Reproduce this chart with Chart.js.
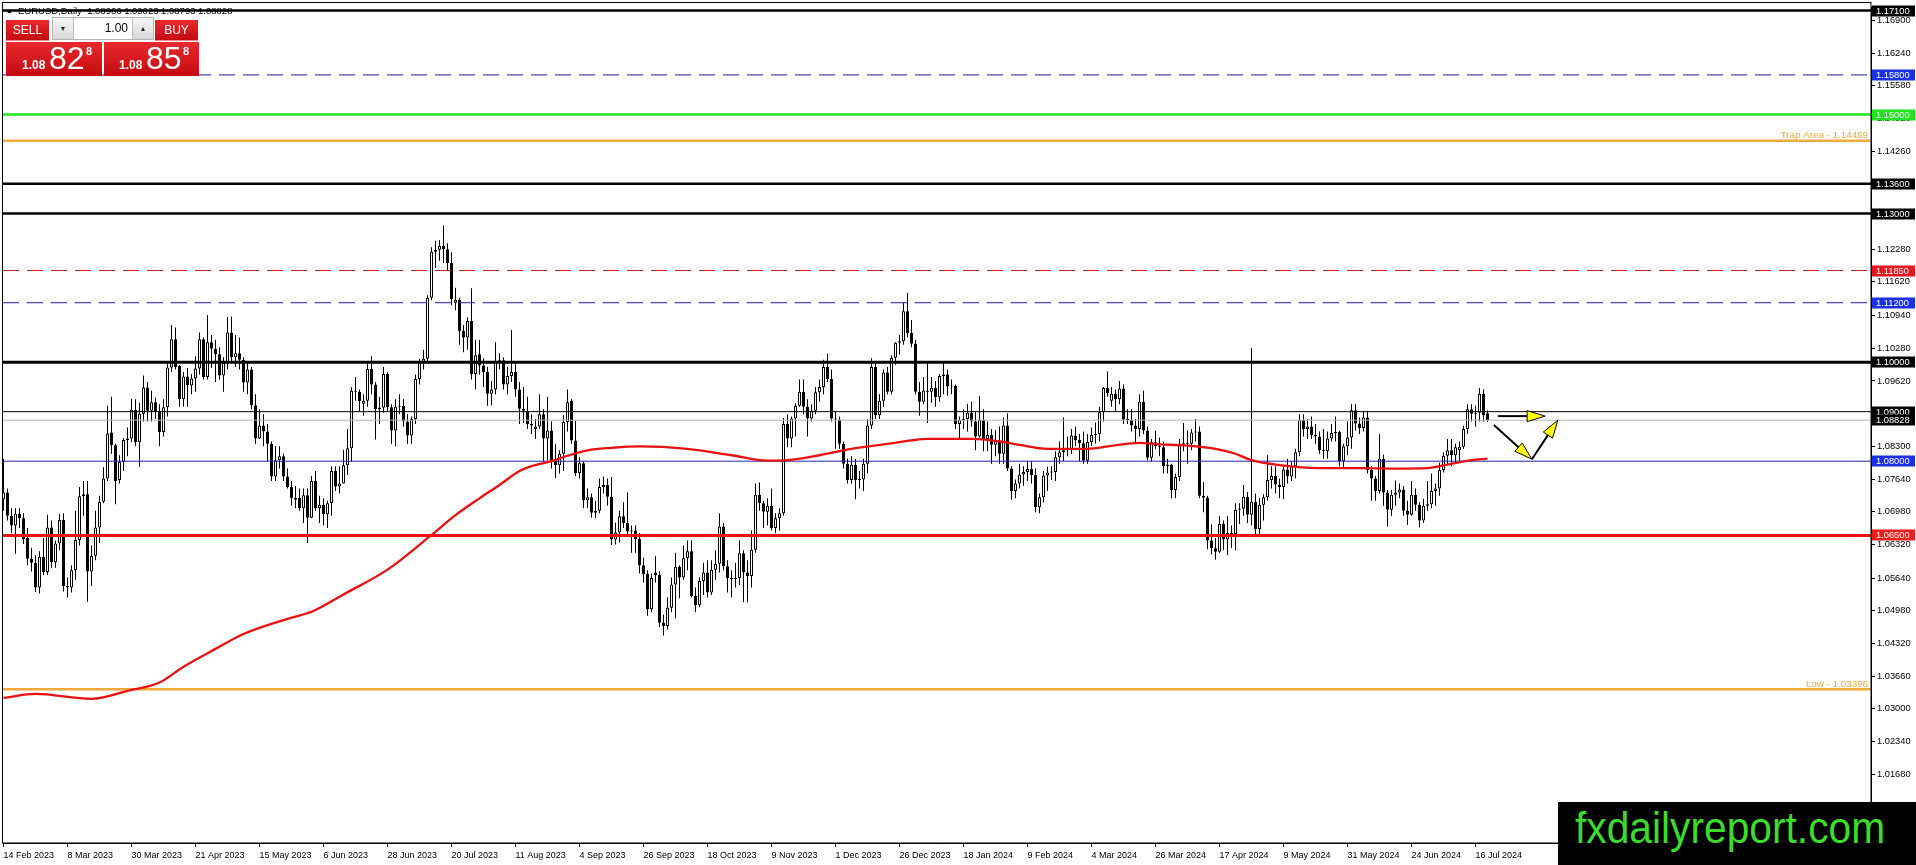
<!DOCTYPE html>
<html>
<head>
<meta charset="utf-8">
<title>EURUSD Daily</title>
<script src="https://cdn.jsdelivr.net/npm/chart.js@4.4.1/dist/chart.umd.min.js"></script>
<style>
  body { margin: 0; background: #fff; font-family: "Liberation Sans", Arial, sans-serif; }
  #wrap { position: relative; width: 1916px; height: 865px; overflow: hidden; }
  #chart { position: absolute; left: 0; top: 0; }
  .abs { position: absolute; white-space: nowrap; }
  .red { position: absolute; background: linear-gradient(#e9292e, #c40b10); color: #fff; }
  .lbl { font-size: 12px; line-height: 20px; text-align: center; border-bottom: 1px solid #f08a8a; }
  .btn { position: absolute; top: 18px; width: 20px; height: 21px; background: linear-gradient(#f6f6f6, #d9d9d9); font-size: 7px; line-height: 21px; text-align: center; color: #222; }
</style>
</head>
<body>
<div id="wrap">
  <canvas id="chart" width="1916" height="865"></canvas>

  <div class="abs" style="left:6px;top:7px;font-size:7px;line-height:7px;">&#9650;</div>
  <div class="abs" style="left:18px;top:6px;font-size:9.5px;line-height:9.5px;color:#000;">EURUSD,Daily&nbsp; 1.08966 1.09023 1.08793 1.08828</div>

  <div class="red lbl" style="left:6px;top:20px;width:43px;height:20px;">SELL</div>
  <div class="abs" style="left:52px;top:17px;width:100px;height:21px;background:#fff;border:1px solid #b4b4b4;"></div>
  <div class="btn" style="left:53px;border-right:1px solid #bdbdbd;">&#9660;</div>
  <div class="abs" style="left:74px;top:17px;width:54px;font-size:12px;line-height:23px;text-align:right;color:#000;">1.00</div>
  <div class="btn" style="left:132px;border-left:1px solid #bdbdbd;">&#9650;</div>
  <div class="red lbl" style="left:155px;top:20px;width:43px;height:20px;">BUY</div>

  <div class="red" style="left:6px;top:42px;width:96px;height:34px;">
    <span class="abs" style="left:16px;top:17px;font-size:12px;line-height:12px;font-weight:bold;">1.08</span>
    <span class="abs" style="left:43px;top:0px;font-size:32px;line-height:32px;">82</span>
    <span class="abs" style="left:80px;top:4px;font-size:11px;line-height:11px;font-weight:bold;">8</span>
  </div>
  <div class="red" style="left:104px;top:42px;width:95px;height:34px;">
    <span class="abs" style="left:15px;top:17px;font-size:12px;line-height:12px;font-weight:bold;">1.08</span>
    <span class="abs" style="left:42px;top:0px;font-size:32px;line-height:32px;">85</span>
    <span class="abs" style="left:79px;top:4px;font-size:11px;line-height:11px;font-weight:bold;">8</span>
  </div>

  <div class="abs" style="left:1558px;top:802px;width:358px;height:63px;background:#000;">
    <span class="abs" style="left:17px;top:3px;font-size:45px;line-height:45px;color:#3cdc2c;transform:scaleX(0.905);transform-origin:left top;">fxdailyreport.com</span>
  </div>
</div>

<script>
const opens = [
  1.0723,1.0737,1.0690,1.0670,1.0694,1.0685,1.0645,1.0603,1.0595,1.0545,
  1.0607,1.0576,1.0666,1.0596,1.0634,1.0682,1.0548,1.0545,1.0580,1.0641,
  1.0729,1.0733,1.0577,1.0609,1.0666,1.0718,1.0765,1.0858,1.0832,1.0762,
  1.0799,1.0843,1.0846,1.0904,1.0838,1.0896,1.0949,1.0902,1.0919,1.0900,
  1.0859,1.0909,1.0989,1.1046,1.0992,1.0925,1.0971,1.0953,1.0967,1.0987,
  1.1046,1.0970,1.1040,1.1027,1.1016,1.0973,1.0999,1.1060,1.1010,1.1018,
  1.1005,1.0959,1.0985,1.0913,1.0846,1.0872,1.0860,1.0835,1.0769,1.0802,
  1.0810,1.0769,1.0748,1.0722,1.0726,1.0705,1.0731,1.0686,1.0760,1.0705,
  1.0712,1.0693,1.0715,1.0780,1.0749,1.0755,1.0792,1.0826,1.0942,1.0940,
  1.0916,1.0922,1.0986,1.0955,1.0905,1.0908,1.0976,1.0909,1.0862,1.0910,
  1.0912,1.0880,1.0852,1.0885,1.0966,1.1000,1.1007,1.1130,1.1223,1.1227,
  1.1235,1.1228,1.1200,1.1120,1.1126,1.1063,1.1050,1.1083,1.0976,1.1016,
  1.0993,1.0980,1.0936,1.0945,1.1000,1.1004,1.0955,1.0972,1.0980,1.0945,
  1.0906,1.0902,1.0875,1.0865,1.0870,1.0895,1.0846,1.0862,1.0802,1.0792,
  1.0815,1.0879,1.0922,1.0842,1.0776,1.0796,1.0721,1.0727,1.0696,1.0700,
  1.0748,1.0752,1.0728,1.0642,1.0656,1.0689,1.0675,1.0658,1.0660,1.0643,
  1.0590,1.0572,1.0501,1.0575,1.0570,1.0474,1.0467,1.0504,1.0551,1.0587,
  1.0565,1.0604,1.0618,1.0528,1.0509,1.0558,1.0575,1.0535,1.0581,1.0593,
  1.0668,1.0588,1.0564,1.0562,1.0564,1.0614,1.0575,1.0568,1.0621,1.0732,
  1.0715,1.0698,1.0710,1.0665,1.0685,1.0695,1.0875,1.0846,1.0886,1.0912,
  1.0940,1.0910,1.0886,1.0902,1.0939,1.0950,1.0990,1.0966,1.0886,1.0884,
  1.0835,1.0795,1.0762,1.0793,1.0762,1.0763,1.0795,1.0872,1.0990,1.0893,
  1.0922,1.0979,1.0940,1.1009,1.1039,1.1042,1.1103,1.1059,1.1037,1.0940,
  1.0920,1.0943,1.0940,1.0948,1.0929,1.0972,1.0975,1.0951,1.0952,1.0875,
  1.0883,1.0885,1.0898,1.0880,1.0850,1.0883,1.0845,1.0853,1.0833,1.0842,
  1.0815,1.0872,1.0785,1.0740,1.0755,1.0773,1.0778,1.0784,1.0772,1.0707,
  1.0727,1.0771,1.0777,1.0778,1.0808,1.0818,1.0822,1.0823,1.0852,1.0843,
  1.0836,1.0801,1.0839,1.0853,1.0855,1.0899,1.0948,1.0922,1.0936,1.0925,
  1.0947,1.0884,1.0883,1.0872,1.0865,1.0920,1.0862,1.0807,1.0838,1.0830,
  1.0828,1.0790,1.0793,1.0742,1.0768,1.0835,1.0836,1.0835,1.0858,1.0860,
  1.0730,1.0726,1.0640,1.0624,1.0617,1.0673,1.0642,1.0655,1.0653,1.0702,
  1.0704,1.0728,1.0692,1.0718,1.0663,1.0712,1.0727,1.0762,1.0770,1.0753,
  1.0748,1.0783,1.0769,1.0790,1.0818,1.0883,1.0865,1.0870,1.0853,1.0850,
  1.0822,1.0820,1.0846,1.0857,1.0859,1.0800,1.0830,1.0848,1.0903,1.0876,
  1.0867,1.0888,1.0782,1.0765,1.0740,1.0805,1.0737,1.0702,1.0732,1.0737,
  1.0743,1.0700,1.0692,1.0732,1.0712,1.0680,1.0710,1.0713,1.0740,1.0745,
  1.0782,1.0811,1.0822,1.0812,1.0822,1.0829,1.0865,1.0905,1.0896,1.0898,
  1.0936,1.08966
];
const highs = [
  1.0805,1.0745,1.0705,1.0705,1.0705,1.0695,1.0665,1.0625,1.0610,1.0618,
  1.0645,1.0692,1.0680,1.0640,1.0694,1.0695,1.0565,1.0590,1.0700,1.0748,
  1.0760,1.0760,1.0630,1.0700,1.0730,1.0788,1.0912,1.0930,1.0835,1.0812,
  1.0847,1.0868,1.0926,1.0925,1.0918,1.0973,1.0960,1.0942,1.0928,1.0915,
  1.0925,1.0998,1.1075,1.1070,1.0994,1.0980,1.0988,1.0976,1.1012,1.1060,
  1.1050,1.1095,1.1055,1.1045,1.1030,1.1010,1.1091,1.1092,1.1055,1.1050,
  1.1010,1.1000,1.0990,1.0935,1.0905,1.0895,1.0875,1.0840,1.0830,1.0830,
  1.0815,1.0785,1.0760,1.0750,1.0745,1.0745,1.0745,1.0770,1.0780,1.0730,
  1.0725,1.0720,1.0790,1.0790,1.0790,1.0823,1.0865,1.0950,1.0970,1.0945,
  1.0935,1.1000,1.1012,1.0960,1.0930,1.0990,1.0980,1.0915,1.0925,1.0935,
  1.0925,1.0895,1.0890,1.0975,1.1007,1.1025,1.1135,1.1232,1.1245,1.1246,
  1.1276,1.1240,1.1222,1.1150,1.1130,1.1075,1.1090,1.1149,1.1045,1.1045,
  1.1008,1.0990,1.0962,1.1040,1.1018,1.1010,1.0990,1.1065,1.1000,1.0960,
  1.0950,1.0930,1.0895,1.0885,1.0935,1.0905,1.0930,1.0880,1.0835,1.0822,
  1.0893,1.0945,1.0925,1.0882,1.0808,1.0800,1.0745,1.0735,1.0720,1.0765,
  1.0769,1.0765,1.0768,1.0676,1.0700,1.0717,1.0737,1.0670,1.0670,1.0655,
  1.0605,1.0580,1.0573,1.0608,1.0578,1.0490,1.0525,1.0565,1.0615,1.0590,
  1.0630,1.0640,1.0640,1.0545,1.0565,1.0595,1.0600,1.0600,1.0620,1.0695,
  1.0675,1.0600,1.0580,1.0595,1.0640,1.0620,1.0600,1.0660,1.0755,1.0757,
  1.0720,1.0725,1.0745,1.0695,1.0705,1.0887,1.0895,1.0890,1.0917,1.0965,
  1.0965,1.0925,1.0915,1.0950,1.0965,1.1005,1.1017,1.0985,1.0900,1.0890,
  1.0840,1.0805,1.0810,1.0805,1.0780,1.0805,1.0885,1.1008,1.1000,1.0935,
  1.0985,1.0990,1.1014,1.1040,1.1055,1.1120,1.1140,1.1085,1.1045,1.0960,
  1.0970,1.0998,1.0970,1.0962,1.0976,1.0998,1.0985,1.0965,1.0955,1.0890,
  1.0905,1.0916,1.0920,1.0900,1.0932,1.0905,1.0880,1.0865,1.0863,1.0870,
  1.0888,1.0897,1.0790,1.0763,1.0795,1.0790,1.0800,1.0800,1.0785,1.0735,
  1.0780,1.0789,1.0790,1.0820,1.0840,1.0888,1.0850,1.0865,1.0870,1.0855,
  1.0860,1.0855,1.0868,1.0878,1.0910,1.0950,1.0981,1.0950,1.0945,1.0962,
  1.0955,1.0905,1.0905,1.0885,1.0935,1.0942,1.0870,1.0845,1.0862,1.0848,
  1.0840,1.0805,1.0795,1.0775,1.0845,1.0877,1.0862,1.0865,1.0885,1.0870,
  1.0758,1.0730,1.0672,1.0645,1.0690,1.0680,1.0690,1.0670,1.0715,1.0715,
  1.0752,1.0738,1.1029,1.0735,1.0725,1.0733,1.0812,1.0790,1.0790,1.0765,
  1.0790,1.0805,1.0800,1.0825,1.0895,1.0895,1.0885,1.0890,1.0875,1.0860,
  1.0865,1.0860,1.0875,1.0890,1.0862,1.0835,1.0880,1.0915,1.0916,1.0888,
  1.0902,1.0902,1.0790,1.0770,1.0855,1.0813,1.0742,1.0742,1.0761,1.0755,
  1.0750,1.0720,1.0760,1.0745,1.0717,1.0724,1.0760,1.0775,1.0755,1.0797,
  1.0818,1.0845,1.0845,1.0835,1.0840,1.0872,1.0915,1.0915,1.0912,1.0948,
  1.0945,1.09023
];
const lows = [
  1.0700,1.0680,1.0655,1.0613,1.0665,1.0633,1.0590,1.0577,1.0536,1.0533,
  1.0570,1.0570,1.0585,1.0585,1.0620,1.0537,1.0525,1.0535,1.0560,1.0630,
  1.0690,1.0516,1.0548,1.0600,1.0635,1.0715,1.0760,1.0815,1.0713,1.0755,
  1.0780,1.0810,1.0838,1.0830,1.0789,1.0880,1.0880,1.0880,1.0885,1.0830,
  1.0850,1.0890,1.0980,1.0985,1.0910,1.0910,1.0910,1.0935,1.0940,1.0975,
  1.0965,1.0965,1.0988,1.0960,1.0965,1.0940,1.0985,1.1000,1.0990,1.0985,
  1.0940,1.0935,1.0905,1.0835,1.0845,1.0830,1.0800,1.0760,1.0760,1.0785,
  1.0760,1.0745,1.0710,1.0705,1.0700,1.0675,1.0635,1.0685,1.0700,1.0675,
  1.0670,1.0665,1.0690,1.0740,1.0735,1.0755,1.0772,1.0800,1.0922,1.0900,
  1.0892,1.0910,1.0935,1.0844,1.0875,1.0898,1.0900,1.0835,1.0830,1.0895,
  1.0870,1.0835,1.0835,1.0875,1.0955,1.0985,1.1000,1.1125,1.1190,1.1205,
  1.1200,1.1185,1.1115,1.1105,1.1035,1.1020,1.1025,1.0965,1.0945,1.0975,
  1.0950,1.0912,1.0913,1.0935,1.0985,1.0945,1.0935,1.0960,1.0930,1.0875,
  1.0877,1.0865,1.0855,1.0845,1.0865,1.0800,1.0802,1.0785,1.0766,1.0775,
  1.0780,1.0860,1.0835,1.0770,1.0765,1.0705,1.0705,1.0686,1.0685,1.0695,
  1.0735,1.0710,1.0631,1.0632,1.0636,1.0665,1.0652,1.0615,1.0615,1.0573,
  1.0555,1.0488,1.0495,1.0555,1.0465,1.0448,1.0460,1.0495,1.0483,1.0523,
  1.0560,1.0580,1.0525,1.0495,1.0505,1.0530,1.0525,1.0530,1.0560,1.0575,
  1.0580,1.0535,1.0525,1.0545,1.0550,1.0515,1.0515,1.0545,1.0615,1.0700,
  1.0665,1.0670,1.0660,1.0655,1.0660,1.0690,1.0828,1.0828,1.0850,1.0910,
  1.0895,1.0850,1.0880,1.0895,1.0920,1.0935,1.0960,1.0880,1.0825,1.0825,
  1.0785,1.0755,1.0755,1.0723,1.0745,1.0740,1.0775,1.0865,1.0885,1.0885,
  1.0910,1.0935,1.0935,1.0995,1.1015,1.1035,1.1050,1.1030,1.0935,1.0892,
  1.0915,1.0877,1.0918,1.0910,1.0920,1.0935,1.0932,1.0935,1.0865,1.0844,
  1.0865,1.0860,1.0870,1.0822,1.0848,1.0820,1.0820,1.0795,1.0810,1.0795,
  1.0795,1.0780,1.0722,1.0725,1.0745,1.0750,1.0760,1.0755,1.0697,1.0695,
  1.0717,1.0740,1.0762,1.0760,1.0795,1.0800,1.0810,1.0815,1.0830,1.0800,
  1.0795,1.0795,1.0830,1.0835,1.0840,1.0880,1.0930,1.0910,1.0900,1.0915,
  1.0875,1.0875,1.0860,1.0835,1.0850,1.0855,1.0802,1.0800,1.0825,1.0810,
  1.0775,1.0775,1.0725,1.0725,1.0760,1.0820,1.0795,1.0822,1.0840,1.0725,
  1.0697,1.0622,1.0612,1.0601,1.0615,1.0620,1.0610,1.0625,1.0620,1.0673,
  1.0690,1.0675,1.0670,1.0650,1.0650,1.0680,1.0720,1.0745,1.0735,1.0725,
  1.0723,1.0755,1.0760,1.0765,1.0810,1.0850,1.0845,1.0845,1.0835,1.0815,
  1.0805,1.0805,1.0840,1.0840,1.0790,1.0788,1.0812,1.0825,1.0862,1.0855,
  1.0860,1.0775,1.0720,1.0720,1.0735,1.0710,1.0668,1.0690,1.0710,1.0725,
  1.0690,1.0671,1.0690,1.0700,1.0666,1.0675,1.0700,1.0705,1.0710,1.0730,
  1.0777,1.0795,1.0790,1.0795,1.0800,1.0825,1.0855,1.0880,1.0870,1.0880,
  1.0880,1.08793
];
const closes = [
  1.0737,1.0690,1.0670,1.0694,1.0685,1.0642,1.0603,1.0595,1.0545,1.0607,
  1.0576,1.0666,1.0596,1.0634,1.0682,1.0548,1.0545,1.0580,1.0641,1.0729,
  1.0733,1.0577,1.0609,1.0666,1.0718,1.0765,1.0856,1.0832,1.0760,1.0799,
  1.0843,1.0846,1.0904,1.0838,1.0896,1.0949,1.0902,1.0919,1.0900,1.0859,
  1.0909,1.0989,1.1046,1.0990,1.0925,1.0971,1.0953,1.0967,1.0987,1.1046,
  1.0970,1.1040,1.1027,1.1016,1.0973,1.0999,1.1060,1.1010,1.1018,1.1005,
  1.0959,1.0985,1.0913,1.0846,1.0872,1.0860,1.0835,1.0769,1.0802,1.0810,
  1.0769,1.0748,1.0725,1.0726,1.0705,1.0731,1.0686,1.0760,1.0705,1.0712,
  1.0693,1.0715,1.0780,1.0749,1.0755,1.0792,1.0826,1.0942,1.0940,1.0921,
  1.0922,1.0986,1.0955,1.0905,1.0908,1.0976,1.0909,1.0862,1.0910,1.0912,
  1.0880,1.0852,1.0885,1.0966,1.1000,1.1007,1.1130,1.1223,1.1227,1.1235,
  1.1228,1.1200,1.1127,1.1126,1.1063,1.1050,1.1083,1.0976,1.1014,1.0993,
  1.0980,1.0936,1.0945,1.1003,1.1004,1.0955,1.0972,1.0980,1.0945,1.0906,
  1.0902,1.0875,1.0872,1.0870,1.0895,1.0846,1.0862,1.0802,1.0792,1.0815,
  1.0879,1.0919,1.0842,1.0776,1.0796,1.0721,1.0727,1.0696,1.0700,1.0748,
  1.0752,1.0728,1.0642,1.0656,1.0689,1.0675,1.0658,1.0660,1.0643,1.0590,
  1.0572,1.0501,1.0564,1.0570,1.0474,1.0467,1.0504,1.0551,1.0587,1.0565,
  1.0604,1.0618,1.0528,1.0509,1.0558,1.0575,1.0535,1.0581,1.0593,1.0668,
  1.0588,1.0564,1.0562,1.0564,1.0614,1.0575,1.0568,1.0621,1.0732,1.0715,
  1.0698,1.0710,1.0665,1.0685,1.0695,1.0875,1.0846,1.0886,1.0912,1.0940,
  1.0910,1.0886,1.0902,1.0939,1.0950,1.0990,1.0966,1.0886,1.0884,1.0835,
  1.0795,1.0762,1.0793,1.0762,1.0763,1.0795,1.0872,1.0990,1.0893,1.0922,
  1.0979,1.0940,1.1009,1.1039,1.1042,1.1103,1.1059,1.1037,1.0940,1.0920,
  1.0943,1.0940,1.0948,1.0929,1.0972,1.0975,1.0951,1.0952,1.0875,1.0883,
  1.0885,1.0898,1.0880,1.0850,1.0883,1.0845,1.0853,1.0833,1.0842,1.0815,
  1.0872,1.0785,1.0740,1.0755,1.0773,1.0778,1.0784,1.0772,1.0707,1.0727,
  1.0771,1.0777,1.0778,1.0808,1.0818,1.0822,1.0823,1.0852,1.0843,1.0836,
  1.0801,1.0839,1.0853,1.0855,1.0899,1.0948,1.0937,1.0936,1.0925,1.0947,
  1.0884,1.0883,1.0872,1.0865,1.0920,1.0862,1.0807,1.0838,1.0830,1.0828,
  1.0790,1.0793,1.0742,1.0768,1.0835,1.0836,1.0835,1.0858,1.0860,1.0730,
  1.0726,1.0640,1.0624,1.0617,1.0673,1.0642,1.0655,1.0653,1.0702,1.0704,
  1.0728,1.0692,1.0718,1.0663,1.0712,1.0727,1.0762,1.0770,1.0753,1.0748,
  1.0783,1.0769,1.0790,1.0818,1.0883,1.0865,1.0870,1.0853,1.0850,1.0822,
  1.0820,1.0846,1.0857,1.0859,1.0800,1.0830,1.0848,1.0903,1.0876,1.0867,
  1.0888,1.0782,1.0765,1.0740,1.0805,1.0737,1.0702,1.0732,1.0737,1.0743,
  1.0700,1.0692,1.0732,1.0712,1.0680,1.0710,1.0713,1.0740,1.0745,1.0782,
  1.0811,1.0822,1.0812,1.0828,1.0829,1.0865,1.0905,1.0896,1.0898,1.0936,
  1.0893,1.08828
];

// 200-day moving average at sample bars
const smaBars = [0,8,22,31,39,45,53,60,72,77,85,96,107,113,119,124,129,132,137,141,
  146,152,159,171,182,191,196,204,212,221,227,231,242,249,254,261,271,277,284,289,
  295,303,308,312,319,329,340,348,356,361,367,371];
const smaValues = [1.0322,1.0330,1.0320,1.0336,1.0353,1.0385,1.0421,1.0451,1.0484,1.0496,
  1.0531,1.0581,1.0651,1.0691,1.0725,1.0752,1.0780,1.0790,1.0800,1.0811,
  1.0822,1.0827,1.0830,1.0825,1.0812,1.0801,1.0802,1.0812,1.0825,1.0835,
  1.0842,1.0845,1.0845,1.0840,1.0833,1.0825,1.0825,1.0831,1.0837,1.0834,
  1.0832,1.0825,1.0815,1.0802,1.0792,1.0786,1.0786,1.0785,1.0786,1.0793,
  1.0802,1.0805];

const tickBars = [0,16,32,48,64,80,96,112,128,144,160,176,192,208,224,240,256,272,288,304,320,336,352,368];
const tickLabels = ["14 Feb 2023","8 Mar 2023","30 Mar 2023","21 Apr 2023","15 May 2023","6 Jun 2023",
  "28 Jun 2023","20 Jul 2023","11 Aug 2023","4 Sep 2023","26 Sep 2023","18 Oct 2023","9 Nov 2023",
  "1 Dec 2023","26 Dec 2023","18 Jan 2024","9 Feb 2024","4 Mar 2024","26 Mar 2024","17 Apr 2024",
  "9 May 2024","31 May 2024","24 Jun 2024","16 Jul 2024"];
const priceTicks = [1.169,1.1624,1.1558,1.1492,1.1426,1.136,1.1294,1.1228,1.1162,1.1094,1.1028,1.0962,
  1.0896,1.083,1.0764,1.0698,1.0632,1.0564,1.0498,1.0432,1.0366,1.03,1.0234,1.0168];

const levelValues = [1.171,1.158,1.15,1.14469,1.136,1.13,1.1185,1.112,1.10,1.09,1.08828,1.08,1.065,1.03396];
const levelNotes = ["","","","Trap Area","","","","","","","","","","Low"];

// analysis arrows in (bar, price)
const arrowFrom = [[373.6,1.0891],[372.6,1.0873],[382.1,1.0804]];
const arrowTo = [[385.4,1.0891],[382.1,1.0804],[388.6,1.0883]];

const X_MIN = -0.125;
const X_MAX = 466.875;
const Y_MIN = 1.0029;
const Y_MAX = 1.1716;
const FONT = "Liberation Sans";

const BLUE_LINE = "#1c1ca0";
const BLUE_BOX = "#1a30e8";
const ORANGE = "#f2a93b";
const levelStyles = [
  {color: "#000", width: 2.5, box: "#000"},
  {color: BLUE_LINE, width: 1, dash: [16, 8], box: BLUE_BOX},
  {color: "#1ee61e", width: 2.5, box: "#1ee61e"},
  {color: ORANGE, width: 2.5},
  {color: "#000", width: 2.5, box: "#000"},
  {color: "#000", width: 2.5, box: "#000"},
  {color: "#c81c1c", width: 1, dash: [16, 8], box: "#e8141e"},
  {color: BLUE_LINE, width: 1, dash: [16, 8], box: BLUE_BOX},
  {color: "#000", width: 3, box: "#000"},
  {color: "#000", width: 1, box: "#000"},
  {color: "#b4b4b4", width: 1, box: "#000"},
  {color: "#2424ac", width: 1, box: BLUE_BOX},
  {color: "#f01212", width: 3, box: "#f01c1c"},
  {color: ORANGE, width: 2.5}
];

const wickData = highs.map((h, i) => ({x: i, y: [lows[i], h]}));
const bodyData = opens.map((o, i) => {
    const c = closes[i];
    let lo = Math.min(o, c), hi = Math.max(o, c);
    if (hi - lo < 0.0002) hi = lo + 0.0002;
    return {x: i, y: [lo, hi]};
});

const levelDatasets = levelValues.map((v, k) => ({
    type: "line",
    data: [{x: X_MIN, y: v}, {x: X_MAX, y: v}],
    borderColor: levelStyles[k].color,
    borderWidth: levelStyles[k].width,
    borderDash: levelStyles[k].dash || [],
    pointRadius: 0,
    order: 1
}));

function drawArrow(ctx, x1, y1, x2, y2) {
    const ang = Math.atan2(y2 - y1, x2 - x1);
    const len = 18, half = 5.5;
    const bx = x2 - Math.cos(ang) * len, by = y2 - Math.sin(ang) * len;
    ctx.strokeStyle = "#000";
    ctx.lineWidth = 2;
    ctx.beginPath();
    ctx.moveTo(x1, y1);
    ctx.lineTo(bx, by);
    ctx.stroke();
    ctx.beginPath();
    ctx.moveTo(x2, y2);
    ctx.lineTo(bx - Math.sin(ang) * half, by + Math.cos(ang) * half);
    ctx.lineTo(bx + Math.sin(ang) * half, by - Math.cos(ang) * half);
    ctx.closePath();
    ctx.fillStyle = "#ffff00";
    ctx.fill();
    ctx.lineWidth = 1;
    ctx.stroke();
}

const overlay = {
    id: "overlay",
    afterDraw(chart) {
        const {ctx, chartArea, scales} = chart;
        const xs = scales.x, ys = scales.y;
        ctx.save();
        ctx.strokeStyle = "#000";
        ctx.lineWidth = 1;
        ctx.strokeRect(2.5, 2.5, chartArea.right - 2.5, chartArea.bottom - 2.5);

        arrowFrom.forEach((p, k) => {
            drawArrow(ctx, xs.getPixelForValue(p[0]), ys.getPixelForValue(p[1]),
                xs.getPixelForValue(arrowTo[k][0]), ys.getPixelForValue(arrowTo[k][1]));
        });

        levelValues.forEach((v, k) => {
            const y = ys.getPixelForValue(v);
            if (levelNotes[k]) {
                ctx.font = "9.8px " + FONT;
                ctx.fillStyle = ORANGE;
                ctx.textAlign = "right";
                ctx.textBaseline = "alphabetic";
                ctx.fillText(levelNotes[k] + " - " + v.toFixed(5), chartArea.right - 3, y - 2.5);
            }
            if (levelStyles[k].box) {
                ctx.font = "9.3px " + FONT;
                ctx.fillStyle = levelStyles[k].box;
                ctx.fillRect(chartArea.right + 1, Math.round(y) - 5.5, 43, 11);
                ctx.fillStyle = "#fff";
                ctx.textAlign = "left";
                ctx.textBaseline = "middle";
                ctx.fillText(v.toFixed(5), chartArea.right + 5, Math.round(y) + 0.5);
            }
        });
        ctx.restore();
    }
};

new Chart(document.getElementById("chart"), {
    type: "bar",
    data: {
        datasets: [
            {
                data: wickData,
                backgroundColor: "#000",
                barThickness: 1,
                grouped: false,
                inflateAmount: 0,
                order: 4
            },
            {
                data: bodyData,
                backgroundColor: ctx => closes[ctx.dataIndex] >= opens[ctx.dataIndex] ? "#fff" : "#000",
                borderColor: "#000",
                borderWidth: 1,
                borderSkipped: false,
                barThickness: 3,
                grouped: false,
                inflateAmount: 0,
                order: 3
            },
            ...levelDatasets,
            {
                type: "line",
                data: smaBars.map((b, k) => ({x: b, y: smaValues[k]})),
                borderColor: "#e81010",
                borderWidth: 2.3,
                cubicInterpolationMode: "monotone",
                pointRadius: 0,
                order: 0
            }
        ]
    },
    options: {
        responsive: false,
        animation: false,
        devicePixelRatio: 1,
        events: [],
        layout: {padding: {left: 3, top: 3, right: 0, bottom: 0}},
        plugins: {legend: {display: false}, tooltip: {enabled: false}},
        scales: {
            x: {
                type: "linear",
                min: X_MIN,
                max: X_MAX,
                offset: false,
                afterBuildTicks: s => { s.ticks = tickBars.map(v => ({value: v})); },
                afterFit: s => { s.height = 22; },
                ticks: {
                    autoSkip: false,
                    maxRotation: 0,
                    align: "start",
                    padding: 3,
                    color: "#000",
                    font: {family: FONT, size: 9},
                    callback: v => tickLabels[tickBars.indexOf(v)] || ""
                },
                grid: {drawOnChartArea: false, offset: false, tickLength: 4, color: "#000"},
                border: {color: "#000", width: 1}
            },
            y: {
                position: "right",
                min: Y_MIN,
                max: Y_MAX,
                beginAtZero: false,
                afterBuildTicks: s => { s.ticks = priceTicks.map(v => ({value: v})); },
                afterFit: s => { s.width = 45; },
                ticks: {
                    padding: 2,
                    color: "#000",
                    font: {family: FONT, size: 9.3},
                    callback: v => v.toFixed(5)
                },
                grid: {drawOnChartArea: false, tickLength: 4, color: "#000"},
                border: {color: "#000", width: 1}
            }
        }
    },
    plugins: [overlay]
});
</script>
</body>
</html>
